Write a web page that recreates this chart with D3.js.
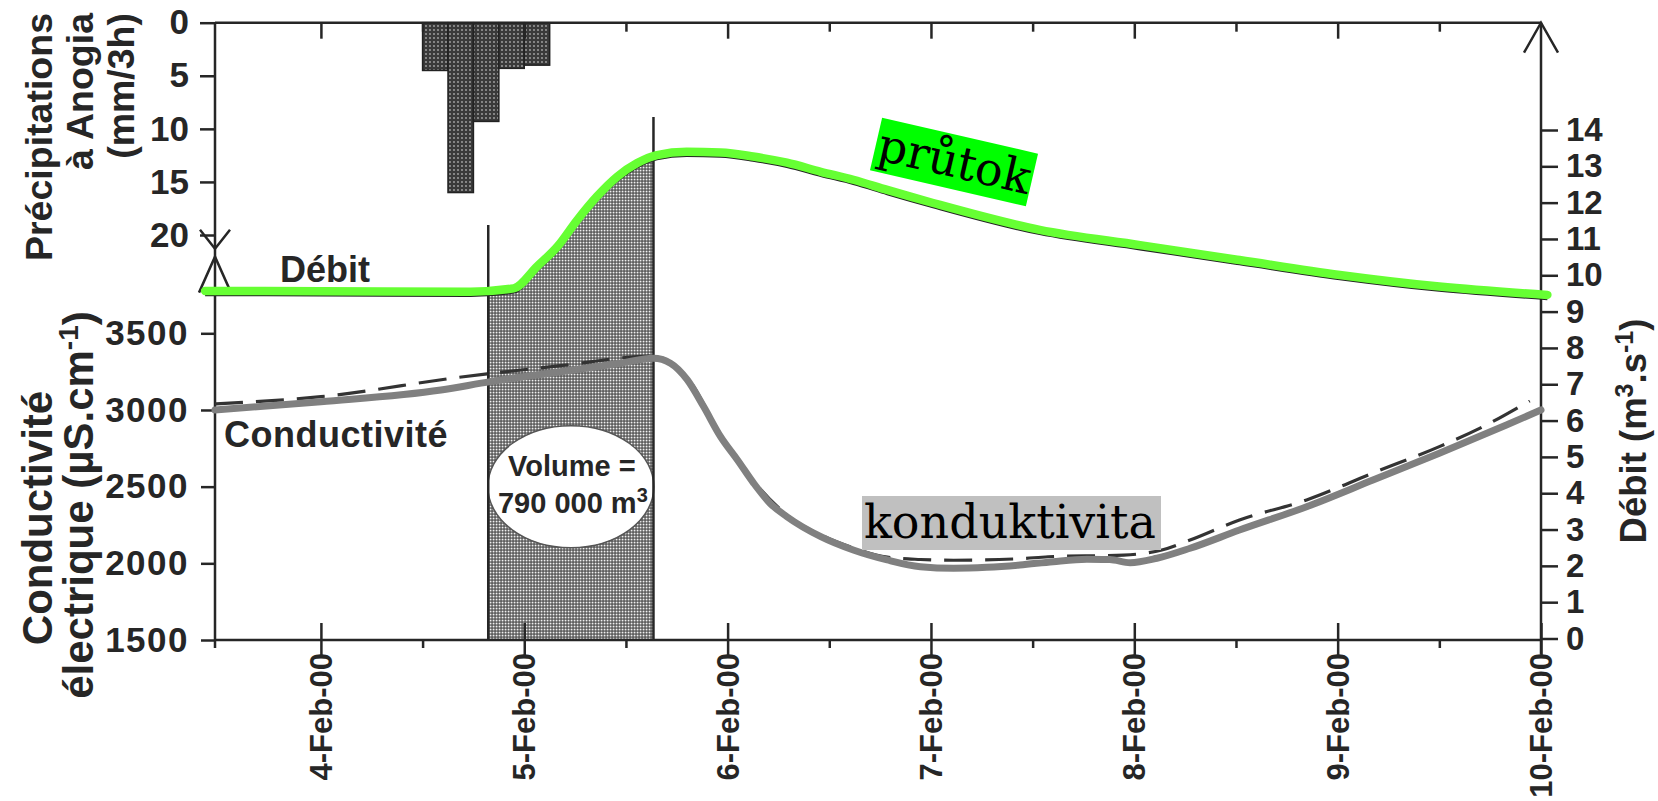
<!DOCTYPE html>
<html>
<head>
<meta charset="utf-8">
<script src="https://cdn.jsdelivr.net/npm/d3@7"></script>
<style>
  body { margin: 0; background: #fff; }
  svg text { font-family: "Liberation Sans", Arial, sans-serif; font-weight: bold; fill: #262626; }
</style>
</head>
<body>
<div id="content"></div>
<script>
const parse = d3.timeParse("%Y-%m-%d %H:%M");

// rain at Anogia, 3-hour totals (mm/3h)
const rainStart = ["2000-02-04 12:00", "2000-02-04 15:00", "2000-02-04 18:00", "2000-02-04 21:00", "2000-02-05 00:00"];
const rainMm = [4.5, 16.0, 9.3, 4.3, 4.0];

// débit (m3/s), highlighted in green
const debitTime = ["2000-02-03 10:20", "2000-02-04 00:00", "2000-02-04 17:40", "2000-02-04 22:45", "2000-02-05 01:30",
  "2000-02-05 03:55", "2000-02-05 06:15", "2000-02-05 08:35", "2000-02-05 11:00", "2000-02-05 13:20", "2000-02-05 15:40",
  "2000-02-05 19:10", "2000-02-05 23:10", "2000-02-06 03:00", "2000-02-06 07:00", "2000-02-06 11:00", "2000-02-06 14:50",
  "2000-02-06 18:50", "2000-02-07 00:15", "2000-02-07 12:50", "2000-02-08 00:40", "2000-02-08 12:25", "2000-02-09 00:15",
  "2000-02-09 12:00", "2000-02-10 00:45"];
const debitVal = [9.57, 9.56, 9.55, 9.64, 10.24, 10.79, 11.52, 12.17, 12.72, 13.09, 13.31, 13.40, 13.38, 13.27, 13.10,
  12.85, 12.63, 12.35, 11.99, 11.25, 10.83, 10.42, 10.01, 9.69, 9.46];

// conductivité (µS/cm), grey curve
const condTime = ["2000-02-03 11:30", "2000-02-04 00:00", "2000-02-04 14:10", "2000-02-04 20:00", "2000-02-05 05:50",
  "2000-02-05 11:20", "2000-02-05 15:15", "2000-02-05 17:15", "2000-02-05 19:15", "2000-02-05 21:10", "2000-02-05 23:10",
  "2000-02-06 01:10", "2000-02-06 03:05", "2000-02-06 05:00", "2000-02-06 07:00", "2000-02-06 11:00", "2000-02-06 14:50",
  "2000-02-06 18:50", "2000-02-06 22:45", "2000-02-07 02:40", "2000-02-07 06:35", "2000-02-07 10:30", "2000-02-07 14:25",
  "2000-02-07 18:25", "2000-02-07 21:05", "2000-02-07 23:30", "2000-02-08 02:40", "2000-02-08 06:35", "2000-02-08 12:25",
  "2000-02-08 20:20", "2000-02-09 04:10", "2000-02-09 12:00", "2000-02-09 19:55", "2000-02-10 00:00"];
const condVal = [3000, 3054, 3130, 3185, 3261, 3305, 3337, 3305, 3196, 3022, 2826, 2674, 2522, 2392, 2304, 2174, 2087,
  2022, 1978, 1968, 1974, 1989, 2011, 2026, 2025, 2004, 2033, 2098, 2217, 2369, 2543, 2718, 2902, 3000];

// original dashed conductivity curve
const condRefTime = ["2000-02-03 11:30", "2000-02-04 00:00", "2000-02-04 16:35", "2000-02-05 04:00", "2000-02-05 15:15",
  "2000-02-05 19:15", "2000-02-05 23:10", "2000-02-06 03:05", "2000-02-06 07:00", "2000-02-06 11:00", "2000-02-06 14:50",
  "2000-02-06 18:50", "2000-02-06 22:45", "2000-02-07 02:40", "2000-02-07 10:30", "2000-02-07 13:50", "2000-02-07 22:45",
  "2000-02-08 03:15", "2000-02-08 06:35", "2000-02-08 12:25", "2000-02-08 20:20", "2000-02-09 04:10", "2000-02-09 12:00",
  "2000-02-09 16:45", "2000-02-09 22:40"];
const condRefVal = [3039, 3087, 3215, 3287, 3352, 3210, 2840, 2535, 2315, 2185, 2100, 2040, 2025, 2020, 2030, 2043, 2054,
  2087, 2152, 2283, 2413, 2589, 2761, 2880, 3060];

const dayTicks = ["2000-02-04 00:00", "2000-02-05 00:00", "2000-02-06 00:00", "2000-02-07 00:00", "2000-02-08 00:00", "2000-02-09 00:00", "2000-02-10 00:00"];
const dayLabels = ["4-Feb-00", "5-Feb-00", "6-Feb-00", "7-Feb-00", "8-Feb-00", "9-Feb-00", "10-Feb-00"];
const noonTicks = ["2000-02-04 12:00", "2000-02-05 12:00", "2000-02-06 12:00", "2000-02-07 12:00", "2000-02-08 12:00", "2000-02-09 12:00"];
const condTicks = [1500, 2000, 2500, 3000, 3500];
const rainTicks = [0, 5, 10, 15, 20];
const debitTicks = [0, 1, 2, 3, 4, 5, 6, 7, 8, 9, 10, 11, 12, 13, 14];

// flood event window (volume)
const eventStart = "2000-02-04 19:45";
const eventEnd = "2000-02-05 15:15";

const W = 1658, H = 801;
const ink = "#262626";

const svg = d3.select("#content").append("svg").attr("width", W).attr("height", H);
svg.append("rect").attr("width", W).attr("height", H).attr("fill", "white");

const defs = svg.append("defs");
const pBar = defs.append("pattern").attr("id", "barFill").attr("width", 4).attr("height", 4).attr("patternUnits", "userSpaceOnUse");
pBar.append("rect").attr("width", 4).attr("height", 4).attr("fill", "#3a3a3a");
pBar.append("circle").attr("cx", 2).attr("cy", 2).attr("r", 0.9).attr("fill", "#a8a8a8");
const pVol = defs.append("pattern").attr("id", "volFill").attr("width", 3).attr("height", 3).attr("patternUnits", "userSpaceOnUse");
pVol.append("rect").attr("width", 3).attr("height", 3).attr("fill", "#444");
pVol.append("rect").attr("x", 0.6).attr("y", 0.6).attr("width", 1.9).attr("height", 1.9).attr("fill", "#f0f0f0");

const x = d3.scaleTime().domain([parse("2000-02-03 11:30"), parse("2000-02-10 00:00")]).range([215, 1541]);
const yRain = d3.scaleLinear().domain([0, 20]).range([22.7, 235]);
const yCond = d3.scaleLinear().domain([1500, 3500]).range([640, 333.3]);
const yDeb = d3.scaleLinear().domain([0, 14]).range([638.5, 130]);

const debit = debitTime.map((t, i) => ({ t: parse(t), v: debitVal[i] }));
const cond = condTime.map((t, i) => ({ t: parse(t), v: condVal[i] }));
const condRef = condRefTime.map((t, i) => ({ t: parse(t), v: condRefVal[i] }));
const rain = rainStart.map((t, i) => ({ t: parse(t), v: rainMm[i] }));

const x0 = x.range()[0], x1 = x.range()[1];
const yBase = yCond.range()[0], yTop = yRain.range()[0];
const tS = parse(eventStart), tE = parse(eventEnd);

// volume shading under the débit curve
defs.append("clipPath").attr("id", "volClip").append("rect")
  .attr("x", x(tS)).attr("y", 0).attr("width", x(tE) - x(tS)).attr("height", yBase);
svg.append("path").datum(debit)
  .attr("clip-path", "url(#volClip)")
  .attr("transform", "translate(0,4)")
  .attr("fill", "url(#volFill)")
  .attr("d", d3.area().curve(d3.curveMonotoneX).x(d => x(d.t)).y0(yBase - 4).y1(d => yDeb(d.v)));

// ellipse with the volume
const ex = (x(tS) + x(tE)) / 2, ey = yCond(2500);
svg.append("ellipse").attr("cx", ex).attr("cy", ey).attr("rx", 83).attr("ry", 61)
  .attr("fill", "white").attr("stroke", "#555").attr("stroke-width", 1.5);
svg.append("text").attr("x", ex + 1).attr("y", ey - 11).attr("text-anchor", "middle").attr("font-size", 29).text("Volume =");
const vt = svg.append("text").attr("x", ex + 2).attr("y", ey + 26).attr("text-anchor", "middle").attr("font-size", 29);
vt.append("tspan").text("790 000 m");
vt.append("tspan").attr("dy", -11).attr("font-size", 20).text("3");

// rain bars, hanging from the top axis
const bw = x(d3.timeHour.offset(rain[0].t, 3)) - x(rain[0].t);
svg.append("g").selectAll("rect").data(rain).join("rect")
  .attr("x", d => x(d.t)).attr("y", yRain(0))
  .attr("width", bw).attr("height", d => yRain(d.v) - yRain(0))
  .attr("fill", "url(#barFill)").attr("stroke", "#222").attr("stroke-width", 1.5);

// frame lines
const frame = svg.append("g").attr("stroke", ink).attr("stroke-width", 2.5).attr("fill", "none");
frame.append("line").attr("x1", x0).attr("x2", x1).attr("y1", yTop).attr("y2", yTop);
frame.append("line").attr("x1", x0).attr("x2", x1).attr("y1", yBase).attr("y2", yBase);
frame.append("line").attr("x1", x0).attr("x2", x0).attr("y1", yTop).attr("y2", yBase + 8);
frame.append("line").attr("x1", x1).attr("x2", x1).attr("y1", yTop).attr("y2", yBase + 14);
// arrows: precip axis end, conductivity axis end, débit axis end
const aR = yRain(21.3), aC = yCond(4000);
frame.append("path").attr("d", `M${x0 - 15},${aR - 19}L${x0},${aR}L${x0 + 15},${aR - 19}`);
frame.append("path").attr("d", `M${x0 - 16},${aC + 36}L${x0},${aC}L${x0 + 16},${aC + 36}`);
frame.append("path").attr("d", `M${x1 - 17},${yTop + 30}L${x1},${yTop}L${x1 + 17},${yTop + 30}`);

function styleAxis(g, size) {
  g.select(".domain").remove();
  g.selectAll("line").attr("stroke", ink).attr("stroke-width", 2.5);
  g.selectAll("text").attr("font-size", size).attr("fill", ink)
    .attr("font-family", "Liberation Sans, Arial, sans-serif").attr("font-weight", "bold");
}

// left axes
svg.append("g").attr("transform", `translate(${x0},0)`)
  .call(d3.axisLeft(yRain).tickValues(rainTicks).tickSize(15).tickPadding(11))
  .call(g => styleAxis(g, 35));
svg.append("g").attr("transform", `translate(${x0},0)`)
  .call(d3.axisLeft(yCond).tickValues(condTicks).tickFormat(d3.format("d")).tickSize(14).tickPadding(12))
  .call(g => styleAxis(g, 35))
  .call(g => g.selectAll("text").attr("letter-spacing", 1.5));
// right axis
svg.append("g").attr("transform", `translate(${x1},0)`)
  .call(d3.axisRight(yDeb).tickValues(debitTicks).tickSize(17).tickPadding(8))
  .call(g => styleAxis(g, 33));

// bottom axis: day ticks cross the axis, noon ticks below
const days = dayTicks.map(parse), noons = noonTicks.map(parse);
svg.append("g").attr("transform", `translate(0,${yBase})`)
  .call(d3.axisBottom(x).tickValues(days).tickSize(15).tickFormat(""))
  .call(g => styleAxis(g, 10))
  .call(g => g.selectAll("line").attr("y1", -17));
svg.append("g").attr("transform", `translate(0,${yBase})`)
  .call(d3.axisBottom(x).tickValues(noons).tickSize(8).tickFormat(""))
  .call(g => styleAxis(g, 10));
// top axis ticks, pointing down
svg.append("g").attr("transform", `translate(0,${yTop})`)
  .call(d3.axisBottom(x).tickValues(days.slice(0, -1)).tickSize(16).tickFormat(""))
  .call(g => styleAxis(g, 10));
svg.append("g").attr("transform", `translate(0,${yTop})`)
  .call(d3.axisBottom(x).tickValues(noons).tickSize(9).tickFormat(""))
  .call(g => styleAxis(g, 10));

svg.append("g").selectAll("text").data(days).join("text")
  .attr("transform", d => `translate(${x(d) + 11},653) rotate(-90)`)
  .attr("text-anchor", "end").attr("font-size", 31).text((d, i) => dayLabels[i]);

// event boundary lines
svg.append("line").attr("x1", x(tS)).attr("x2", x(tS)).attr("y1", 225).attr("y2", yBase)
  .attr("stroke", ink).attr("stroke-width", 2.5);
svg.append("line").attr("x1", x(tE)).attr("x2", x(tE)).attr("y1", 117).attr("y2", yBase)
  .attr("stroke", ink).attr("stroke-width", 2.5);

// conductivity curves
const lineC = d3.line().curve(d3.curveMonotoneX).x(d => x(d.t)).y(d => yCond(d.v));
svg.append("path").datum(condRef).attr("d", lineC)
  .attr("fill", "none").attr("stroke", "#333").attr("stroke-width", 3.2).attr("stroke-dasharray", "28,13");
svg.append("path").datum(cond).attr("d", lineC)
  .attr("fill", "none").attr("stroke", "#808080").attr("stroke-width", 7).attr("stroke-linecap", "round");

// débit: original black curve + green highlight
const lineD = d3.line().curve(d3.curveMonotoneX).x(d => x(d.t)).y(d => yDeb(d.v));
svg.append("path").datum(debit).attr("d", lineD).attr("transform", "translate(0,4)")
  .attr("fill", "none").attr("stroke", "#222").attr("stroke-width", 2.5);
svg.append("path").datum(debit).attr("d", lineD)
  .attr("fill", "none").attr("stroke", "#66ff33").attr("stroke-width", 8.5).attr("stroke-linecap", "round");

// in-plot labels
svg.append("text").attr("x", 280).attr("y", 282).attr("font-size", 36).text("Débit");
svg.append("text").attr("x", 224).attr("y", 447).attr("font-size", 36).attr("letter-spacing", 0.5).text("Conductivité");

// axis titles
const rainTitle = ["Précipitations", "à Anogia", "(mm/3h)"];
const rainTitleX = [52, 93, 134];
svg.append("g").selectAll("text").data(rainTitle).join("text")
  .attr("transform", (d, i) => `translate(${rainTitleX[i]},13) rotate(-90)`)
  .attr("text-anchor", "end").attr("font-size", 37.5).text(d => d);

svg.append("text").attr("transform", "translate(52,518) rotate(-90)")
  .attr("text-anchor", "middle").attr("font-size", 42).text("Conductivité");
const ct = svg.append("text").attr("transform", "translate(93,505) rotate(-90)")
  .attr("text-anchor", "middle").attr("font-size", 42);
ct.append("tspan").text("électrique (µS.cm");
ct.append("tspan").attr("dy", -15).attr("font-size", 28).text("-1");
ct.append("tspan").attr("dy", 15).text(")");

const dt = svg.append("text").attr("transform", "translate(1646,431) rotate(-90)")
  .attr("text-anchor", "middle").attr("font-size", 36.5);
dt.append("tspan").text("Débit (m");
dt.append("tspan").attr("dy", -13).attr("font-size", 25).text("3");
dt.append("tspan").attr("dy", 13).text(".s");
dt.append("tspan").attr("dy", -13).attr("font-size", 25).text("-1");
dt.append("tspan").attr("dy", 13).text(")");

// overlaid Czech labels
const pg = svg.append("g").attr("transform", "translate(954,162) rotate(13)");
pg.append("rect").attr("x", -80).attr("y", -27).attr("width", 160).attr("height", 54).attr("fill", "#00ff00");
pg.append("text").attr("x", -77).attr("y", 15).attr("font-size", 46)
  .style("font-family", "'DejaVu Serif', serif").style("font-weight", "normal").style("fill", "#000").text("průtok");

svg.append("rect").attr("x", 862).attr("y", 496).attr("width", 299).attr("height", 54).attr("fill", "#c0c0c0");
svg.append("text").attr("x", 864).attr("y", 538).attr("font-size", 46)
  .style("font-family", "'DejaVu Serif', serif").style("font-weight", "normal").style("fill", "#000").text("konduktivita");
</script>
</body>
</html>
